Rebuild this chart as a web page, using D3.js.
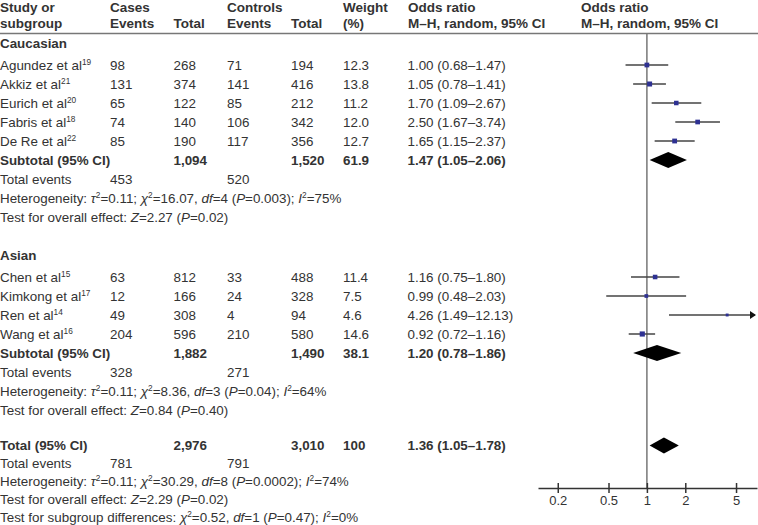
<!DOCTYPE html>
<html><head><meta charset="utf-8">
<script src="https://cdn.jsdelivr.net/npm/d3@7/dist/d3.min.js"></script>
<style>
html,body{margin:0;padding:0;background:#fff;}
svg{display:block;font-family:"Liberation Sans",Arial,Helvetica,sans-serif;}
</style></head><body>
<svg id="chart" width="758" height="525"></svg>
<script>
// ---------- data ----------
const groups = ["Caucasian", "Asian"];
const studyNames = ["Agundez et al", "Akkiz et al", "Eurich et al", "Fabris et al", "De Re et al",
                    "Chen et al", "Kimkong et al", "Ren et al", "Wang et al"];
const studyRefs = ["19", "21", "20", "18", "22", "15", "17", "14", "16"];
const studyGroup = [0, 0, 0, 0, 0, 1, 1, 1, 1];
const casesEvents = [98, 131, 65, 74, 85, 63, 12, 49, 204];
const casesTotal = [268, 374, 122, 140, 190, 812, 166, 308, 596];
const controlsEvents = [71, 141, 85, 106, 117, 33, 24, 4, 210];
const controlsTotal = [194, 416, 212, 342, 356, 488, 328, 94, 580];
const weights = [12.3, 13.8, 11.2, 12.0, 12.7, 11.4, 7.5, 4.6, 14.6];
const orEst = [1.00, 1.05, 1.70, 2.50, 1.65, 1.16, 0.99, 4.26, 0.92];
const orLow = [0.68, 0.78, 1.09, 1.67, 1.15, 0.75, 0.48, 1.49, 0.72];
const orHigh = [1.47, 1.41, 2.67, 3.74, 2.37, 1.80, 2.03, 12.13, 1.16];

const subCasesTotal = [1094, 1882];
const subControlsTotal = [1520, 1490];
const subWeight = [61.9, 38.1];
const subOR = [1.47, 1.20];
const subLow = [1.05, 0.78];
const subHigh = [2.06, 1.86];
const subCasesEvents = [453, 328];
const subControlsEvents = [520, 271];
const subTau2 = ["0.11", "0.11"];
const subChi2 = ["16.07", "8.36"];
const subDf = ["4", "3"];
const subHetP = ["0.003", "0.04"];
const subI2 = ["75", "64"];
const subZ = ["2.27", "0.84"];
const subZP = ["0.02", "0.40"];

const totalCases = 2976, totalControls = 3010, totalWeight = "100";
const totalOR = 1.36, totalLow = 1.05, totalHigh = 1.78;
const totalCasesEvents = 781, totalControlsEvents = 791;
const totalHet = {tau2: "0.11", chi2: "30.29", df: "8", p: "0.0002", i2: "74"};
const totalZ = {z: "2.29", p: "0.02"};
const subgroupDiff = {chi2: "0.52", df: "1", p: "0.47", i2: "0"};

const tickValues = [0.2, 0.5, 1, 2, 5];

// ---------- layout ----------
const svg = d3.select("#chart");
const W = 758;
const textColor = "#333";
const fs = 13.4;
const colX = {study: 0, ce: 110, ct: 173.5, ke: 227, kt: 291, w: 343, or: 407.5};
const x = d3.scaleLog().domain([0.14, 7.3]).range([538, 757]);
const y = d3.scaleLinear().domain([0, 24]).range([65, 521]);
const yTot = d3.scaleLinear().domain([20, 24]).range([445.5, 517.5]);
const groupOffset = [0, 3];
const fmtInt = d3.format(",");
const fmt2 = d3.format(".2f");
const orText = (e, l, h) => `${fmt2(e)} (${fmt2(l)}–${fmt2(h)})`;

// header
const hdr = svg.append("g").attr("font-weight", "bold").attr("font-size", 13.5).attr("fill", textColor);
const headers = [
  [colX.study, ["Study or", "subgroup"]],
  [colX.ce, ["Cases", "Events"]],
  [colX.ct, ["", "Total"]],
  [colX.ke, ["Controls", "Events"]],
  [colX.kt, ["", "Total"]],
  [colX.w, ["Weight", "(%)"]],
  [408, ["Odds ratio", "M–H, random, 95% CI"]],
  [581, ["Odds ratio", "M–H, random, 95% CI"]]
];
headers.forEach(([hx, lines]) => {
  lines.forEach((t, i) => {
    if (t) hdr.append("text").attr("x", hx).attr("y", 7.5 + i * 16).attr("dy", "0.35em").text(t);
  });
});
svg.append("line").attr("x1", 0).attr("x2", W).attr("y1", 33.5).attr("y2", 33.5)
  .attr("stroke", "#777").attr("stroke-width", 1.5);

// vertical line of no effect
svg.append("line").attr("x1", x(1)).attr("x2", x(1)).attr("y1", 34).attr("y2", 488)
  .attr("stroke", "#777").attr("stroke-width", 1.5);

const body = svg.append("g").attr("font-size", fs).attr("fill", textColor);
function txt(xx, yy, t, bold) {
  return body.append("text").attr("x", xx).attr("y", yy).attr("dy", "0.35em")
    .attr("font-weight", bold ? "bold" : null).text(t);
}
// rich text: segments [text, italic, sup]
function rich(xx, yy, segs) {
  const t = body.append("text").attr("x", xx).attr("y", yy).attr("dy", "0.35em");
  segs.forEach(s => {
    const sp = t.append("tspan").text(s[0]);
    if (s[1]) sp.attr("font-style", "italic");
    if (s[2]) sp.attr("font-size", fs * 0.62).attr("baseline-shift", "super");
  });
  return t;
}
function hetLine(yy, tau2, chi2, df, p, i2) {
  rich(colX.study, yy, [["Heterogeneity: "], ["τ", 1], ["2", 0, 1], ["=" + tau2 + "; "], ["χ", 1], ["2", 0, 1],
    ["=" + chi2 + ", "], ["df", 1], ["=" + df + " ("], ["P", 1], ["=" + p + "); "], ["I", 1], ["2", 0, 1], ["=" + i2 + "%"]]);
}
function zLine(yy, z, p) {
  rich(colX.study, yy, [["Test for overall effect: "], ["Z", 1], ["=" + z + " ("], ["P", 1], ["=" + p + ")"]]);
}

const plot = svg.append("g");
function diamond(yy, e, l, h) {
  const hh = 8;
  plot.append("path")
    .attr("d", `M${x(l)},${yy}L${x(e)},${yy - hh}L${x(h)},${yy}L${x(e)},${yy + hh}Z`)
    .attr("fill", "#000");
}

const rowStart = [0, 11];
groups.forEach((g, gi) => {
  const base = rowStart[gi];
  const off = groupOffset[gi];
  const Y = i => y(i) + off;
  txt(colX.study, Y(base - 1) - 3, g, true);
  const idx = studyGroup.map((v, i) => v === gi ? i : -1).filter(i => i >= 0);
  idx.forEach((si, k) => {
    const yy = Y(base + k);
    rich(colX.study, yy, [[studyNames[si]], [studyRefs[si], 0, 1]]);
    txt(colX.ce, yy, casesEvents[si]);
    txt(colX.ct, yy, casesTotal[si]);
    txt(colX.ke, yy, controlsEvents[si]);
    txt(colX.kt, yy, controlsTotal[si]);
    txt(colX.w, yy, weights[si].toFixed(1));
    txt(colX.or, yy, orText(orEst[si], orLow[si], orHigh[si]));
    // CI line
    const hiClipped = orHigh[si] > x.domain()[1];
    const xh = hiClipped ? x.range()[1] - 2 : x(orHigh[si]);
    plot.append("line").attr("x1", x(orLow[si])).attr("x2", xh).attr("y1", yy).attr("y2", yy)
      .attr("stroke", "#444").attr("stroke-width", 1.5);
    if (hiClipped) {
      const ax = x.range()[1] - 1;
      plot.append("path").attr("d", `M${ax},${yy}L${ax - 6},${yy - 4}L${ax - 6},${yy + 4}Z`).attr("fill", "#111");
    }
    const s = Math.sqrt(weights[si]) * 1.35;
    plot.append("rect").attr("x", x(orEst[si]) - s / 2).attr("y", yy - s / 2)
      .attr("width", s).attr("height", s).attr("fill", "#2e3192");
  });
  const n = idx.length;
  const ys = Y(base + n);
  txt(colX.study, ys, "Subtotal (95% CI)", true);
  txt(colX.ct, ys, fmtInt(subCasesTotal[gi]), true);
  txt(colX.kt, ys, fmtInt(subControlsTotal[gi]), true);
  txt(colX.w, ys, subWeight[gi].toFixed(1), true);
  txt(colX.or, ys, orText(subOR[gi], subLow[gi], subHigh[gi]), true);
  diamond(ys, subOR[gi], subLow[gi], subHigh[gi]);
  txt(colX.study, Y(base + n + 1), "Total events");
  txt(colX.ce, Y(base + n + 1), subCasesEvents[gi]);
  txt(colX.ke, Y(base + n + 1), subControlsEvents[gi]);
  hetLine(Y(base + n + 2), subTau2[gi], subChi2[gi], subDf[gi], subHetP[gi], subI2[gi]);
  zLine(Y(base + n + 3), subZ[gi], subZP[gi]);
});

// overall
const yt = yTot(20);
txt(colX.study, yt, "Total (95% CI)", true);
txt(colX.ct, yt, fmtInt(totalCases), true);
txt(colX.kt, yt, fmtInt(totalControls), true);
txt(colX.w, yt, totalWeight, true);
txt(colX.or, yt, orText(totalOR, totalLow, totalHigh), true);
diamond(yt, totalOR, totalLow, totalHigh);
txt(colX.study, yTot(21), "Total events");
txt(colX.ce, yTot(21), totalCasesEvents);
txt(colX.ke, yTot(21), totalControlsEvents);
hetLine(yTot(22), totalHet.tau2, totalHet.chi2, totalHet.df, totalHet.p, totalHet.i2);
zLine(yTot(23), totalZ.z, totalZ.p);
rich(colX.study, yTot(24), [["Test for subgroup differences: "], ["χ", 1], ["2", 0, 1], ["=" + subgroupDiff.chi2 + ", "],
  ["df", 1], ["=" + subgroupDiff.df + " ("], ["P", 1], ["=" + subgroupDiff.p + "); "], ["I", 1], ["2", 0, 1], ["=" + subgroupDiff.i2 + "%"]]);

// axis
const axis = d3.axisBottom(x).tickValues(tickValues).tickFormat(d3.format("")).tickSize(5).tickSizeOuter(0);
const ag = svg.append("g").attr("transform", "translate(0,488)").call(axis);
ag.select(".domain").attr("stroke", "#333").attr("stroke-width", 1.5);
ag.selectAll(".tick line").attr("y1", -5).attr("y2", 5).attr("stroke", "#333").attr("stroke-width", 1.5);
ag.selectAll(".tick text").attr("y", 8).attr("dy", "0.71em").attr("font-size", 13)
  .attr("fill", textColor).attr("font-family", "Liberation Sans, Arial, sans-serif");
</script>
</body></html>
